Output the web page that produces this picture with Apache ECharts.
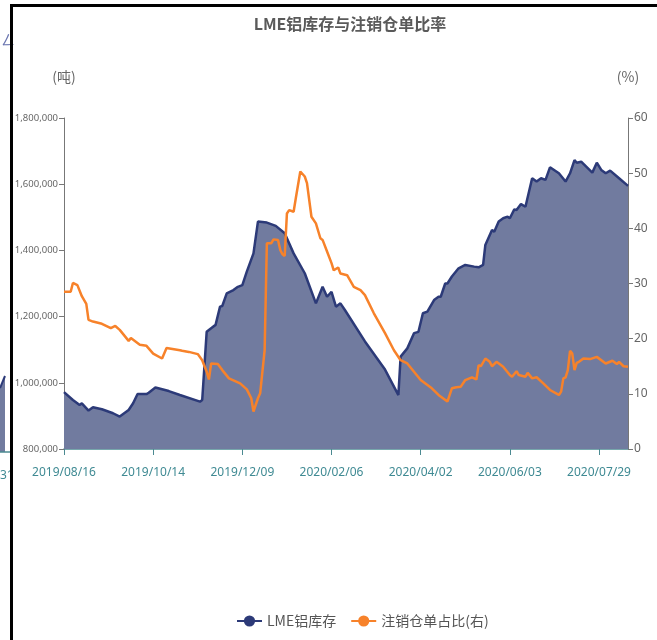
<!DOCTYPE html>
<html>
<head>
<meta charset="utf-8">
<script src="https://cdn.jsdelivr.net/npm/echarts@6/dist/echarts.min.js"></script>
<style>
html,body{margin:0;padding:0;background:#fff;}
#chart{width:657px;height:640px;}
</style>
</head>
<body>
<div id="chart"></div>
<script>
// ---- data ----
const startDate = '2019/08/16';
const endDate = '2020/08/17';
const holidays = ['2019/08/26','2019/12/25','2019/12/26','2020/01/01','2020/04/10','2020/04/13','2020/05/08','2020/05/25'];
const xTickLabels = ['2019/08/16','2019/10/14','2019/12/09','2020/02/06','2020/04/02','2020/06/03','2020/07/29'];
const seriesNames = ['LME铝库存', '注销仓单占比(右)'];

// LME aluminium stocks (tonnes)
const stockData = [
  ['2019/08/16',972000],['2019/08/22',948000],['2019/08/28',933000],['2019/08/29',938000],
  ['2019/09/03',916000],['2019/09/05',926000],['2019/09/11',920000],['2019/09/18',908000],
  ['2019/09/23',898000],['2019/09/27',918000],['2019/10/01',938000],['2019/10/03',966000],
  ['2019/10/09',966000],['2019/10/10',970000],['2019/10/15',986000],['2019/10/23',975000],
  ['2019/10/30',963000],['2019/11/12',943000],['2019/11/13',948000],['2019/11/15',1154000],
  ['2019/11/19',1165000],['2019/11/21',1175000],['2019/11/25',1230000],['2019/11/26',1232000],
  ['2019/11/28',1270000],['2019/12/03',1280000],['2019/12/05',1290000],['2019/12/09',1295000],
  ['2019/12/11',1336000],['2019/12/16',1391000],['2019/12/18',1487000],['2019/12/24',1484000],
  ['2020/01/02',1474000],['2020/01/08',1452000],['2020/01/14',1391000],['2020/01/21',1331000],
  ['2020/01/28',1240000],['2020/01/31',1290000],['2020/02/04',1260000],['2020/02/06',1275000],
  ['2020/02/10',1230000],['2020/02/12',1240000],['2020/02/14',1220000],['2020/02/27',1125000],
  ['2020/03/11',1040000],['2020/03/19',963000],['2020/03/20',1079000],['2020/03/25',1104000],
  ['2020/03/30',1150000],['2020/04/01',1154000],['2020/04/03',1210000],['2020/04/07',1215000],
  ['2020/04/14',1250000],['2020/04/16',1260000],['2020/04/17',1260000],['2020/04/21',1300000],
  ['2020/04/22',1300000],['2020/04/24',1321000],['2020/04/29',1346000],['2020/05/04',1356000],
  ['2020/05/11',1351000],['2020/05/13',1349000],['2020/05/15',1356000],['2020/05/18',1416000],
  ['2020/05/21',1462000],['2020/05/22',1456000],['2020/05/27',1487000],['2020/05/29',1497000],
  ['2020/06/02',1502000],['2020/06/03',1497000],['2020/06/05',1524000],['2020/06/08',1522000],
  ['2020/06/10',1540000],['2020/06/12',1532000],['2020/06/17',1618000],['2020/06/19',1608000],
  ['2020/06/23',1618000],['2020/06/25',1613000],['2020/06/29',1651000],['2020/07/03',1633000],
  ['2020/07/08',1608000],['2020/07/10',1633000],['2020/07/14',1673000],['2020/07/15',1665000],
  ['2020/07/17',1668000],['2020/07/24',1635000],['2020/07/28',1665000],['2020/07/30',1643000],
  ['2020/08/03',1633000],['2020/08/05',1641000],['2020/08/11',1618000],['2020/08/17',1595000]
];

// cancelled warrants ratio (%)
const cancelData = [
  ['2019/08/16',28.5],['2019/08/21',28.5],['2019/08/22',30.1],['2019/08/27',29.7],['2019/08/29',27.7],
  ['2019/09/02',26.3],['2019/09/03',23.4],['2019/09/05',23.1],['2019/09/11',22.7],['2019/09/17',21.9],
  ['2019/09/19',22.3],['2019/09/23',21.6],['2019/09/27',19.6],['2019/09/30',20.1],['2019/10/04',18.9],
  ['2019/10/09',18.7],['2019/10/14',17.3],['2019/10/18',16.4],['2019/10/22',18.3],['2019/10/30',17.9],
  ['2019/10/31',17.8],['2019/11/05',17.6],['2019/11/11',17.2],['2019/11/13',16.1],['2019/11/15',14.0],
  ['2019/11/18',12.6],['2019/11/19',15.5],['2019/11/22',15.4],['2019/11/26',14.3],['2019/11/29',12.8],
  ['2019/12/06',11.9],['2019/12/11',10.8],['2019/12/13',9.2],['2019/12/16',6.8],['2019/12/18',9.2],
  ['2019/12/19',10.1],['2019/12/23',17.9],['2019/12/24',37.3],['2019/12/30',37.3],['2019/12/31',38.0],
  ['2020/01/03',37.9],['2020/01/06',36.1],['2020/01/07',35.3],['2020/01/08',35.0],['2020/01/09',42.7],
  ['2020/01/10',43.3],['2020/01/14',43.0],['2020/01/15',45.5],['2020/01/17',50.3],['2020/01/21',49.4],
  ['2020/01/22',48.2],['2020/01/24',42.1],['2020/01/28',40.9],['2020/01/30',38.2],['2020/01/31',37.9],
  ['2020/02/04',35.8],['2020/02/06',33.7],['2020/02/07',32.4],['2020/02/11',32.9],['2020/02/12',31.8],
  ['2020/02/17',31.5],['2020/02/20',29.4],['2020/02/25',28.8],['2020/02/27',27.9],['2020/03/04',24.6],
  ['2020/03/11',21.0],['2020/03/17',17.9],['2020/03/20',16.1],['2020/03/25',15.5],['2020/03/30',14.0],
  ['2020/04/02',12.5],['2020/04/09',11.0],['2020/04/16',9.8],['2020/04/22',8.6],['2020/04/24',11.0],
  ['2020/04/28',11.2],['2020/04/30',11.3],['2020/05/04',12.5],['2020/05/07',13.0],['2020/05/12',12.6],
  ['2020/05/13',15.2],['2020/05/14',15.0],['2020/05/18',16.4],['2020/05/20',15.8],['2020/05/21',15.0],
  ['2020/05/26',15.8],['2020/05/29',14.9],['2020/06/03',13.4],['2020/06/04',13.1],['2020/06/08',14.1],
  ['2020/06/09',13.4],['2020/06/12',13.1],['2020/06/15',13.8],['2020/06/17',12.8],['2020/06/19',13.0],
  ['2020/06/24',11.9],['2020/06/29',10.7],['2020/07/03',9.8],['2020/07/06',10.4],['2020/07/07',12.8],
  ['2020/07/08',13.0],['2020/07/09',14.3],['2020/07/10',17.8],['2020/07/13',17.3],['2020/07/14',14.3],
  ['2020/07/15',15.6],['2020/07/16',15.8],['2020/07/20',16.4],['2020/07/23',16.3],['2020/07/28',16.7],
  ['2020/08/03',15.5],['2020/08/06',16.0],['2020/08/10',15.4],['2020/08/11',15.8],['2020/08/13',15.0],
  ['2020/08/17',14.9]
];

// ---- build trading-day categories ----
function fmt(d){
  const m = String(d.getUTCMonth()+1).padStart(2,'0');
  const dd = String(d.getUTCDate()).padStart(2,'0');
  return d.getUTCFullYear()+'/'+m+'/'+dd;
}
function buildDays(s, e){
  const out = [];
  const p = s.split('/').map(Number), q = e.split('/').map(Number);
  let d = new Date(Date.UTC(p[0], p[1]-1, p[2]));
  const end = new Date(Date.UTC(q[0], q[1]-1, q[2]));
  while (d <= end) {
    const wd = d.getUTCDay();
    const f = fmt(d);
    if (wd !== 0 && wd !== 6 && holidays.indexOf(f) < 0) out.push(f);
    d = new Date(d.getTime() + 86400000);
  }
  return out;
}
const categories = buildDays(startDate, endDate);
function toIdx(date){
  let i = categories.indexOf(date);
  if (i >= 0) return i;
  for (let k = 0; k < categories.length; k++) if (categories[k] >= date) return k;
  return categories.length - 1;
}
const tickFn = (idx, val) => xTickLabels.indexOf(val) >= 0;

const chart = echarts.init(document.getElementById('chart'), null, {renderer: 'canvas'});
const navy = '#2c3a78';
const orange = '#f7822a';
const option = {
  animation: false,
  backgroundColor: '#fff',
  title: {
    text: 'LME铝库存与注销仓单比率',
    left: 345, top: 11, textAlign: 'center',
    textStyle: {fontSize: 16, fontWeight: 'bold', color: '#5a5a5a', fontFamily: 'Noto Sans CJK SC'}
  },
  legend: {
    data: seriesNames,
    top: 609, left: 231,
    itemWidth: 25, itemHeight: 14, itemGap: 14,
    textStyle: {fontSize: 14, color: '#555', fontFamily: 'Noto Sans CJK SC'}
  },
  grid: {left: 64, right: 29, top: 118, bottom: 191},
  xAxis: {
    type: 'category', data: categories, boundaryGap: false,
    axisLine: {lineStyle: {color: '#4b8a91', width: 1.5}},
    axisTick: {interval: tickFn, length: 6, lineStyle: {color: '#4b8a91'}},
    axisLabel: {interval: tickFn, color: '#3f8a93', fontSize: 12, margin: 18, fontFamily: 'Noto Sans'},
    splitLine: {show: false}
  },
  yAxis: [
    {
      type: 'value', min: 800000, max: 1800000, interval: 200000,
      name: '(吨)', nameLocation: 'end', nameGap: 34,
      nameTextStyle: {color: '#666', fontSize: 14, align: 'center', fontFamily: 'Noto Sans CJK SC'},
      axisLine: {show: true, lineStyle: {color: '#777'}},
      axisTick: {show: true, length: 5, lineStyle: {color: '#777'}},
      splitLine: {show: false},
      axisLabel: {color: '#666', fontSize: 9.5, margin: 6, fontFamily: 'Noto Sans',
        formatter: v => v.toLocaleString('en-US')}
    },
    {
      type: 'value', min: 0, max: 60, interval: 10,
      name: '(%)', nameLocation: 'end', nameGap: 34,
      nameTextStyle: {color: '#666', fontSize: 14, align: 'center', fontFamily: 'Noto Sans CJK SC'},
      axisLine: {show: true, lineStyle: {color: '#777'}},
      axisTick: {show: true, length: 5, lineStyle: {color: '#777'}},
      splitLine: {show: false},
      axisLabel: {color: '#666', fontSize: 12, margin: 6, fontFamily: 'Noto Sans'}
    }
  ],
  series: [
    {
      name: seriesNames[0], type: 'line', yAxisIndex: 0,
      data: stockData.map(d => [toIdx(d[0]), d[1]]),
      symbol: 'circle', symbolSize: 8, showSymbol: false,
      lineStyle: {color: navy, width: 2.5},
      itemStyle: {color: navy},
      areaStyle: {color: '#717b9f', opacity: 1, origin: 'start'},
      z: 2
    },
    {
      name: seriesNames[1], type: 'line', yAxisIndex: 1,
      data: cancelData.map(d => [toIdx(d[0]), d[1]]),
      symbol: 'circle', symbolSize: 8, showSymbol: false,
      lineStyle: {color: orange, width: 2.5},
      itemStyle: {color: orange},
      z: 3
    }
  ],
  graphic: [
    {type: 'polygon', shape: {points: [[0,388],[5,376],[5,452],[0,452]]}, style: {fill: '#717b9f'}, silent: true},
    {type: 'polyline', shape: {points: [[0,388],[5,376]]}, style: {stroke: navy, lineWidth: 2}, silent: true},
    {type: 'line', shape: {x1: 0, y1: 452, x2: 10, y2: 452}, style: {stroke: '#4b8a91', lineWidth: 1.5}, silent: true},
    {type: 'text', left: 0, top: 470, style: {text: '31', fill: '#3f8a93', font: '12px Noto Sans'}, silent: true},
    {type: 'text', left: 1, top: 33, style: {text: 'ㄥ', fill: '#6a75b0', font: '14px Noto Sans CJK SC'}, silent: true},
    {type: 'rect', shape: {x: 10, y: 5, width: 3, height: 635}, style: {fill: '#000'}, silent: true, z: 100},
    {type: 'rect', shape: {x: 10, y: 4, width: 647, height: 3}, style: {fill: '#000'}, silent: true, z: 100}
  ]
};
chart.setOption(option);
</script>
</body>
</html>
